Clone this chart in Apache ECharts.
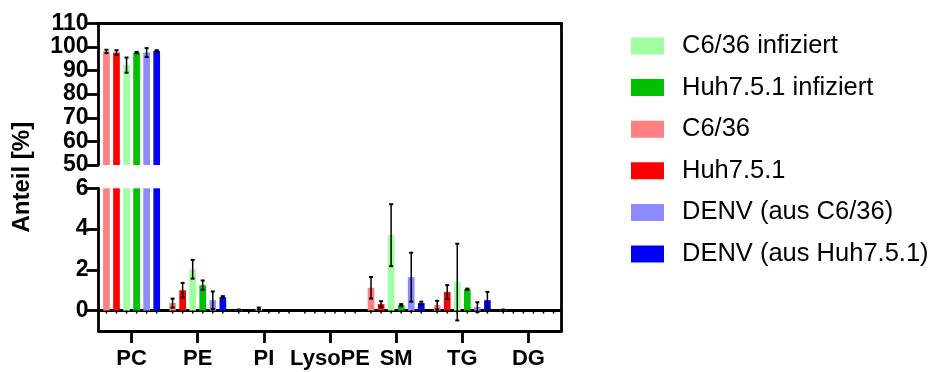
<!DOCTYPE html>
<html>
<head>
<meta charset="utf-8">
<script src="https://cdn.jsdelivr.net/npm/echarts@6/dist/echarts.min.js"></script>
<style>
html,body{margin:0;padding:0;background:#fff;}
#chart{width:931px;height:372px;}
</style>
</head>
<body>
<div id="chart"></div>
<script>
// ---------- data ----------
const categories = ['PC', 'PE', 'PI', 'LysoPE', 'SM', 'TG', 'DG'];
const barOrder = ['C6/36', 'Huh7.5.1', 'C6/36 infiziert', 'Huh7.5.1 infiziert', 'DENV (aus C6/36)', 'DENV (aus Huh7.5.1)'];
const legendOrder = ['C6/36 infiziert', 'Huh7.5.1 infiziert', 'C6/36', 'Huh7.5.1', 'DENV (aus C6/36)', 'DENV (aus Huh7.5.1)'];

const c636      = [98.1, 0.37, 0.03, 0, 1.12, 0.27, 0.03];
const c636Err   = [0.7,  0.22, 0.02, 0, 0.53, 0.21, 0.02];
const huh       = [97.6, 1.00, 0,    0, 0.32, 0.91, 0];
const huhErr    = [1.0,  0.36, 0,    0, 0.14, 0.34, 0];
const c636Inf   = [92.3, 2.03, 0.10, 0, 3.70, 1.40, 0];
const c636InfErr= [3.2,  0.46, 0.05, 0, 1.52, 1.88, 0];
const huhInf    = [97.6, 1.25, 0,    0, 0.27, 1.05, 0];
const huhInfErr = [0.3,  0.23, 0,    0, 0.05, 0.03, 0];
const denvC636  = [97.6, 0.51, 0,    0, 1.64, 0.17, 0];
const denvC636Err=[1.9,  0.43, 0,    0, 1.20, 0.24, 0];
const denvHuh   = [98.3, 0.66, 0,    0, 0.37, 0.51, 0];
const denvHuhErr= [0.3,  0.05, 0,    0, 0.07, 0.41, 0];

const yTicksTop = [50, 60, 70, 80, 90, 100, 110];
const yTicksBottom = [0, 2, 4, 6];
const topRange = [50, 110];
const bottomRange = [-1, 6];

// ---------- styling ----------
const values = [c636, huh, c636Inf, huhInf, denvC636, denvHuh];
const errors = [c636Err, huhErr, c636InfErr, huhInfErr, denvC636Err, denvHuhErr];
const colors = ['#FF8080', '#FF0000', '#A0FFA0', '#00C000', '#8C8CFF', '#0000FF'];
const FONT = "'Liberation Sans', Arial, sans-serif";
const BAR_W = 6.7, BAR_GAP = 0.5, LW = 2.8;

const errData = [];
values.forEach((arr, k) => arr.forEach((v, ci) => errData.push([ci, v, errors[k][ci], k])));

function makeErrRender(lo, hi, zeroTicks) {
  return function (params, api) {
    const ci = api.value(0), v = api.value(1), e = api.value(2), k = api.value(3);
    const pitch = BAR_W * (1 + BAR_GAP);
    const dx = (k - (barOrder.length - 1) / 2) * pitch;
    const children = [];
    const st = { stroke: '#000', lineWidth: 1.5 };
    if (zeroTicks) {
      const p0 = api.coord([ci, 0]);
      children.push({ type: 'line', shape: { x1: p0[0] + dx, y1: p0[1], x2: p0[0] + dx, y2: p0[1] + 3 }, style: st });
    }
    if (e > 0) {
      const a = Math.max(v - e, lo), b = Math.min(v + e, hi);
      if (a < b) {
        const pa = api.coord([ci, a]), pb = api.coord([ci, b]);
        const x = pa[0] + dx;
        children.push({ type: 'line', shape: { x1: x, y1: pa[1], x2: x, y2: pb[1] }, style: st });
        if (v - e >= lo) children.push({ type: 'line', shape: { x1: x - 2, y1: pa[1], x2: x + 2, y2: pa[1] }, style: { stroke: '#000', lineWidth: 2 } });
        if (v + e <= hi) children.push({ type: 'line', shape: { x1: x - 2, y1: pb[1], x2: x + 2, y2: pb[1] }, style: { stroke: '#000', lineWidth: 2 } });
      }
    }
    return { type: 'group', children };
  };
}

const gridLeft = 98.5, gridWidth = 463;
const series = [];
values.forEach((arr, k) => {
  [0, 1].forEach(g => {
    series.push({
      name: barOrder[k], type: 'bar', xAxisIndex: g, yAxisIndex: g,
      data: arr, barWidth: BAR_W, barGap: (BAR_GAP * 100) + '%',
      itemStyle: { color: colors[k] }, clip: true, z: 2
    });
  });
});
series.push({
  type: 'custom', xAxisIndex: 0, yAxisIndex: 0, data: errData, encode: { x: 0, y: 1 },
  renderItem: makeErrRender(topRange[0], topRange[1], false), z: 4, silent: true
});
series.push({
  type: 'custom', xAxisIndex: 1, yAxisIndex: 1, data: errData, encode: { x: 0, y: 1 },
  renderItem: makeErrRender(bottomRange[0], bottomRange[1], true), z: 4, silent: true
});

const axisLineStyle = { color: '#000', width: LW };
const labelStyle = { color: '#000', fontFamily: FONT, fontWeight: 'bold', fontSize: 23 };

const option = {
  animation: false,
  backgroundColor: '#fff',
  grid: [
    { left: gridLeft, top: 23.3, width: gridWidth, height: 141.7 },
    { left: gridLeft, top: 188.3, width: gridWidth, height: 142.7 },
    { left: gridLeft, top: 23.3, width: gridWidth, height: 307.7 }
  ],
  legend: {
    data: legendOrder, orient: 'vertical', left: 631, top: 33, padding: 0,
    icon: 'rect', itemWidth: 33, itemHeight: 17, itemGap: 15.6,
    textStyle: { color: '#000', fontFamily: FONT, fontSize: 25.5, lineHeight: 24, padding: [0, 0, 0, 13] }
  },
  xAxis: [
    { gridIndex: 0, type: 'category', data: categories, position: 'top',
      axisLine: { show: true, lineStyle: axisLineStyle }, axisTick: { show: false }, axisLabel: { show: false } },
    { gridIndex: 1, type: 'category', data: categories, position: 'bottom',
      axisLine: { show: true, onZero: false, lineStyle: axisLineStyle },
      axisTick: { show: true, alignWithLabel: true, length: 12, lineStyle: { color: '#000', width: LW } },
      axisLabel: Object.assign({}, labelStyle, { margin: 17, fontSize: 22, interval: 0 }) },
    { gridIndex: 1, type: 'category', data: categories, position: 'bottom',
      axisLine: { show: true, onZero: true, lineStyle: axisLineStyle }, axisTick: { show: false }, axisLabel: { show: false } },
    { gridIndex: 2, type: 'value', show: false }
  ],
  yAxis: [
    { gridIndex: 0, type: 'value', min: topRange[0], max: topRange[1], interval: 10,
      axisLine: { show: true, lineStyle: axisLineStyle },
      axisTick: { show: true, length: 12, customValues: yTicksTop, lineStyle: { color: '#000', width: LW } },
      axisLabel: Object.assign({ margin: 10, customValues: yTicksTop }, labelStyle),
      splitLine: { show: false } },
    { gridIndex: 1, type: 'value', min: bottomRange[0], max: bottomRange[1],
      axisLine: { show: true, onZero: false, lineStyle: axisLineStyle },
      axisTick: { show: true, length: 12, customValues: yTicksBottom, lineStyle: { color: '#000', width: LW } },
      axisLabel: Object.assign({ margin: 10, customValues: yTicksBottom }, labelStyle),
      splitLine: { show: false } },
    { gridIndex: 2, type: 'value', position: 'left', min: 0, max: 1,
      axisLine: { show: false }, axisTick: { show: false }, axisLabel: { show: false }, splitLine: { show: false },
      name: 'Anteil [%]', nameLocation: 'middle', nameGap: 64,
      nameTextStyle: { color: '#000', fontFamily: FONT, fontWeight: 'bold', fontSize: 24 } },
    { gridIndex: 2, type: 'value', position: 'right', min: 0, max: 1,
      axisLine: { show: true, lineStyle: axisLineStyle }, axisTick: { show: false }, axisLabel: { show: false }, splitLine: { show: false } }
  ],
  series
};

const chart = echarts.init(document.getElementById('chart'), null, { renderer: 'canvas' });
chart.setOption(option);
</script>
</body>
</html>
